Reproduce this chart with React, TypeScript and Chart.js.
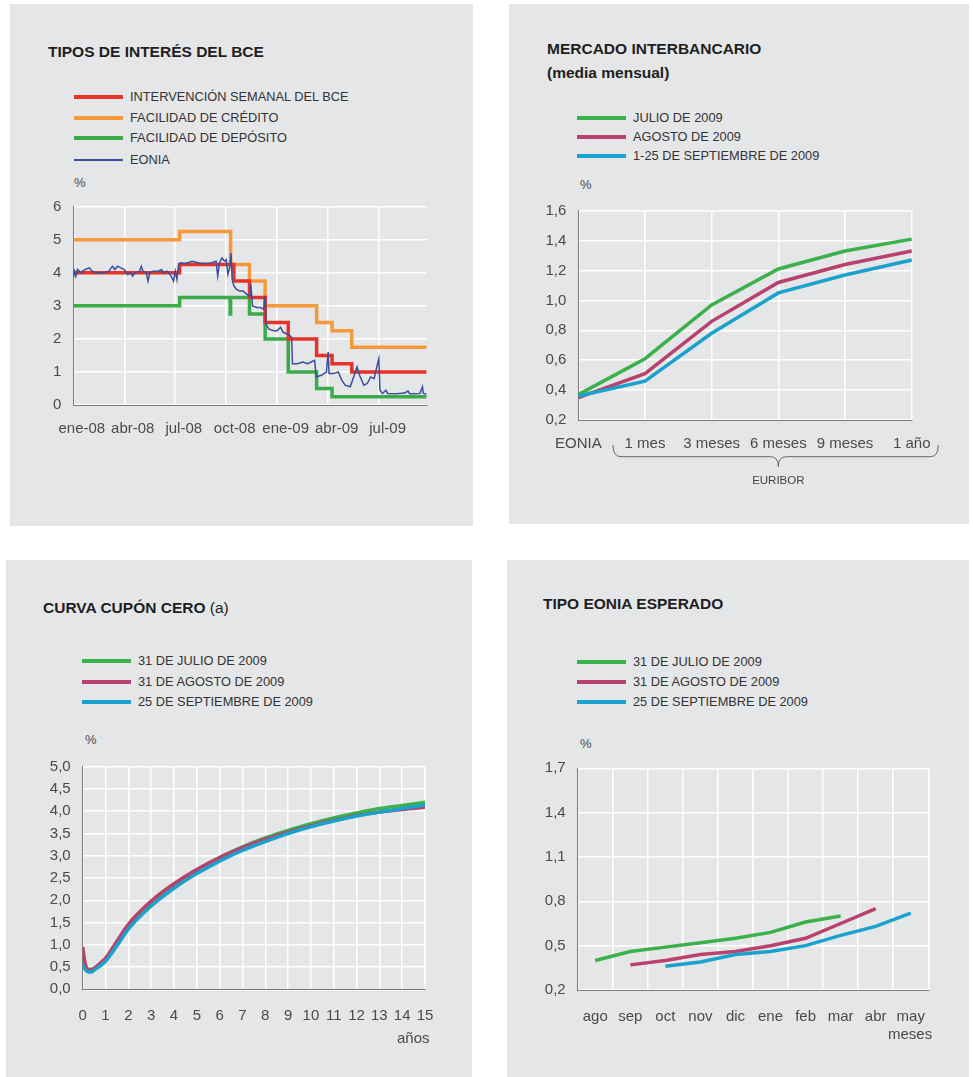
import React, { useEffect, useRef } from 'react';
import { Chart, registerables } from 'chart.js';

Chart.register(...registerables);

// ---------- Panel 1: TIPOS DE INTERÉS DEL BCE (x in months since Jan 2008) ----------
const p1TickMonths = [0, 3, 6, 9, 12, 15, 18];
const p1TickLabels = ['ene-08', 'abr-08', 'jul-08', 'oct-08', 'ene-09', 'abr-09', 'jul-09'];
const p1YTicks = [0, 1, 2, 3, 4, 5, 6];
const p1XMax = 20.8;
const mroMonths = [0, 6.26, 9.45, 10.37, 11.29, 12.65, 14.32, 15.23, 16.39, 20.8];
const mroValues = [4.0, 4.25, 3.75, 3.25, 2.5, 2.0, 1.5, 1.25, 1.0, 1.0];
const lendingMonths = [0, 6.26, 9.26, 10.37, 11.29, 14.32, 15.23, 16.39, 20.8];
const lendingValues = [5.0, 5.25, 4.25, 3.75, 3.0, 2.5, 2.25, 1.75, 1.75];
const depositMonths = [0, 6.26, 9.23, 9.26, 10.37, 11.29, 12.65, 14.32, 15.23, 20.8];
const depositValues = [3.0, 3.25, 2.75, 3.25, 2.75, 2.0, 1.0, 0.5, 0.25, 0.25];
const eoniaMonths = [
  0, 0.08, 0.15, 0.25, 0.35, 0.45, 0.55, 0.7, 0.95, 1.1, 1.4, 1.7, 2.1, 2.3, 2.45, 2.6, 2.8, 3.0,
  3.2, 3.35, 3.5, 3.6, 3.9, 4.0, 4.1, 4.3, 4.4, 4.5, 4.7, 5.0, 5.2, 5.3, 5.5, 5.7, 5.9, 6.0, 6.1,
  6.2, 6.3, 6.6, 7.0, 7.4, 7.8, 8.1, 8.4, 8.5, 8.6, 8.75, 8.9, 9.0, 9.1, 9.2, 9.28, 9.35, 9.45,
  9.6, 9.8, 10.0, 10.2, 10.4, 10.45, 10.55, 10.8, 11.0, 11.2, 11.3, 11.35, 11.5, 11.8, 12.0, 12.2,
  12.35, 12.6, 12.75, 12.85, 12.9, 13.2, 13.5, 13.8, 14.0, 14.2, 14.3, 14.6, 14.9, 15.0, 15.05,
  15.3, 15.6, 15.8, 16.0, 16.3, 16.5, 16.7, 16.85, 17.1, 17.3, 17.5, 17.7, 17.98, 18.05, 18.2,
  18.4, 18.5, 19.0, 19.5, 19.7, 19.8, 20.4, 20.55, 20.6, 20.8,
];
const eoniaValues = [
  3.85, 4.05, 3.9, 4.1, 4.05, 4.0, 4.05, 4.1, 4.15, 4.05, 4.0, 4.0, 4.05, 4.2, 4.1, 4.2, 4.15, 4.1,
  3.95, 4.0, 3.9, 4.0, 4.05, 4.2, 4.05, 4.0, 3.75, 4.0, 4.05, 4.05, 4.1, 4.0, 4.05, 3.95, 3.75, 4.05, 3.8,
  4.25, 4.3, 4.28, 4.35, 4.3, 4.28, 4.3, 4.35, 3.9, 4.3, 4.45, 4.35, 4.4, 3.95, 4.15, 4.6, 3.8, 3.6,
  3.5, 3.45, 3.45, 3.35, 3.3, 3.65, 3.0, 2.95, 2.95, 2.9, 3.3, 2.45, 2.3, 2.25, 2.25, 2.35,
  2.2, 2.15, 2.1, 2.05, 1.25, 1.25, 1.3, 1.25, 1.3, 1.35, 0.85, 0.9, 1.0, 1.6, 0.95,
  0.95, 1.0, 0.75, 0.6, 0.55, 0.85, 1.15, 0.9, 0.6, 0.65, 0.85, 0.8, 1.4, 0.45, 0.35,
  0.45, 0.35, 0.34, 0.36, 0.42, 0.34, 0.35, 0.55, 0.35, 0.33,
];

// ---------- Panel 2: MERCADO INTERBANCARIO ----------
const p2Labels = ['EONIA', '1 mes', '3 meses', '6 meses', '9 meses', '1 año'];
const p2YTicks = [0.2, 0.4, 0.6, 0.8, 1.0, 1.2, 1.4, 1.6];
const p2Jul = [0.37, 0.61, 0.97, 1.21, 1.33, 1.41];
const p2Aug = [0.35, 0.51, 0.86, 1.12, 1.24, 1.33];
const p2Sep = [0.36, 0.46, 0.78, 1.05, 1.17, 1.27];

// ---------- Panel 3: CURVA CUPÓN CERO (x in years) ----------
const p3Years = [0, 0.1, 0.25, 0.4, 0.5, 0.75, 1, 1.5, 2, 3, 4, 5, 6, 7, 8, 9, 10, 11, 12, 13, 14, 15];
const p3XTicks = [0, 1, 2, 3, 4, 5, 6, 7, 8, 9, 10, 11, 12, 13, 14, 15];
const p3YTicks = [0, 0.5, 1, 1.5, 2, 2.5, 3, 3.5, 4, 4.5, 5];
const p3Jul = [0.6, 0.5, 0.45, 0.45, 0.47, 0.55, 0.68, 1.05, 1.43, 1.95, 2.35, 2.68, 2.96, 3.2, 3.4, 3.57, 3.72, 3.85, 3.96, 4.06, 4.13, 4.2];
const p3Aug = [0.95, 0.6, 0.43, 0.43, 0.47, 0.58, 0.7, 1.08, 1.46, 1.98, 2.37, 2.69, 2.96, 3.18, 3.37, 3.53, 3.67, 3.79, 3.9, 3.98, 4.04, 4.09];
const p3Sep = [0.55, 0.45, 0.39, 0.39, 0.43, 0.52, 0.63, 0.98, 1.35, 1.87, 2.27, 2.6, 2.88, 3.12, 3.32, 3.5, 3.65, 3.78, 3.89, 3.98, 4.06, 4.14];

// ---------- Panel 4: TIPO EONIA ESPERADO ----------
const p4Labels = ['ago', 'sep', 'oct', 'nov', 'dic', 'ene', 'feb', 'mar', 'abr', 'may'];
const p4YTicks = [0.2, 0.5, 0.8, 1.1, 1.4, 1.7];
const p4Jul = [0.4, 0.46, 0.49, 0.52, 0.55, 0.59, 0.66, 0.7, null, null];
const p4Aug = [null, 0.37, 0.4, 0.44, 0.46, 0.5, 0.55, 0.65, 0.75, null];
const p4Sep = [null, null, 0.36, 0.39, 0.44, 0.46, 0.5, 0.57, 0.63, 0.72];

// ---------- styles ----------
const FONT = "'Liberation Sans', Arial, Helvetica, sans-serif";
const PANEL_BG = '#e5e6e8';
const TICK_COLOR = '#4a4a4a';
const AXIS_COLOR = '#7a7a7a';
const RED = '#e5332a';
const ORANGE = '#f7993b';
const GREEN1 = '#3aab48';
const BLUE = '#3b4f9c';
const GREEN = '#3cb04b';
const MAGENTA = '#b8426d';
const CYAN = '#1aa2cd';

const comma1 = (v: number) => v.toFixed(1).replace('.', ',');
const pts = (xs: number[], ys: number[]) => xs.map((x, i) => ({ x, y: ys[i] }));

function yAxis(ticks: number[], width: number, fmt: (v: number) => string) {
  return {
    min: ticks[0],
    max: ticks[ticks.length - 1],
    afterBuildTicks: (s: any) => {
      s.ticks = ticks.map((v) => ({ value: v }));
    },
    afterFit: (s: any) => {
      s.width = width;
    },
    grid: { color: '#ffffff', lineWidth: 1.5, drawTicks: false },
    border: { color: AXIS_COLOR, width: 1 },
    ticks: {
      padding: 12,
      color: TICK_COLOR,
      font: { family: FONT, size: 15 },
      callback: (v: any) => fmt(Number(v)),
    },
  };
}

const basePlugins = { legend: { display: false }, tooltip: { enabled: false } };

function ChartBox({ left, top, width, height, make }: any) {
  const ref = useRef<HTMLCanvasElement>(null);
  useEffect(() => {
    const chart = new Chart(ref.current as HTMLCanvasElement, make());
    return () => chart.destroy();
  }, []);
  return (
    <canvas
      ref={ref}
      width={width}
      height={height}
      style={{ position: 'absolute', left, top, width, height }}
    />
  );
}

const makeP1 = (): any => ({
  type: 'line',
  data: {
    datasets: [
      { label: 'EONIA', data: pts(eoniaMonths, eoniaValues), borderColor: BLUE, borderWidth: 1.5, pointRadius: 0, order: 0 },
      { label: 'INTERVENCIÓN SEMANAL DEL BCE', data: pts(mroMonths, mroValues), stepped: true, borderColor: RED, borderWidth: 3.5, pointRadius: 0, order: 1 },
      { label: 'FACILIDAD DE DEPÓSITO', data: pts(depositMonths, depositValues), stepped: true, borderColor: GREEN1, borderWidth: 3.5, pointRadius: 0, order: 2 },
      { label: 'FACILIDAD DE CRÉDITO', data: pts(lendingMonths, lendingValues), stepped: true, borderColor: ORANGE, borderWidth: 3.5, pointRadius: 0, order: 3 },
    ],
  },
  options: {
    animation: false,
    responsive: false,
    devicePixelRatio: 1,
    layout: { padding: { left: 0, top: 202.7, right: 46.3, bottom: 81 } },
    plugins: basePlugins,
    scales: {
      x: {
        type: 'linear',
        min: 0,
        max: p1XMax,
        afterBuildTicks: (s: any) => {
          s.ticks = p1TickMonths.map((v) => ({ value: v }));
        },
        afterFit: (s: any) => {
          s.height = 40;
        },
        grid: { color: '#ffffff', lineWidth: 1.5, drawTicks: false },
        border: { color: AXIS_COLOR, width: 1 },
        ticks: {
          padding: 15,
          labelOffset: 8.5,
          autoSkip: false,
          maxRotation: 0,
          color: TICK_COLOR,
          font: { family: FONT, size: 15 },
          callback: (_v: any, i: number) => p1TickLabels[i],
        },
      },
      y: yAxis(p1YTicks, 63.3, (v) => String(v)),
    },
  },
});

const bracePlugin = {
  id: 'euriborBrace',
  afterDraw(chart: any) {
    const { ctx, chartArea } = chart;
    const xs = chart.scales.x;
    const x1 = xs.getPixelForValue(1);
    const x5 = xs.getPixelForValue(5);
    const L = x1 - 32;
    const R = x5 + 26.6;
    const C = (x1 + x5) / 2;
    const top = chartArea.bottom + 25;
    const mid = chartArea.bottom + 36.7;
    const tip = chartArea.bottom + 46.7;
    const r = 8;
    ctx.save();
    ctx.strokeStyle = '#666';
    ctx.lineWidth = 1;
    ctx.beginPath();
    ctx.moveTo(L, top);
    ctx.quadraticCurveTo(L, mid, L + r, mid);
    ctx.lineTo(C - r, mid);
    ctx.quadraticCurveTo(C, mid, C, tip);
    ctx.quadraticCurveTo(C, mid, C + r, mid);
    ctx.lineTo(R - r, mid);
    ctx.quadraticCurveTo(R, mid, R, top);
    ctx.stroke();
    ctx.fillStyle = '#444';
    ctx.font = `11.5px ${FONT}`;
    ctx.textAlign = 'center';
    ctx.textBaseline = 'middle';
    ctx.fillText('EURIBOR', C, chartArea.bottom + 60.7);
    ctx.restore();
  },
};

const catX = (height: number, padding: number, offset: boolean) => ({
  type: 'category',
  offset,
  afterFit: (s: any) => {
    s.height = height;
  },
  grid: { color: '#ffffff', lineWidth: 1.5, drawTicks: false, offset },
  border: { color: AXIS_COLOR, width: 1 },
  ticks: {
    padding,
    autoSkip: false,
    maxRotation: 0,
    color: TICK_COLOR,
    font: { family: FONT, size: 15 },
  },
});

const lineDs = (label: string, data: any[], color: string, order: number) => ({
  label,
  data,
  borderColor: color,
  borderWidth: 3.5,
  pointRadius: 0,
  order,
});

const makeP2 = (): any => ({
  type: 'line',
  data: {
    labels: p2Labels,
    datasets: [
      lineDs('JULIO DE 2009', p2Jul, GREEN, 2),
      lineDs('AGOSTO DE 2009', p2Aug, MAGENTA, 1),
      lineDs('1-25 DE SEPTIEMBRE DE 2009', p2Sep, CYAN, 0),
    ],
  },
  options: {
    animation: false,
    responsive: false,
    devicePixelRatio: 1,
    layout: { padding: { left: 0, top: 206.7, right: 57.3, bottom: 64 } },
    plugins: basePlugins,
    scales: {
      x: catX(40, 15, false),
      y: yAxis(p2YTicks, 69.3, comma1),
    },
  },
  plugins: [bracePlugin],
});

const makeP3 = (): any => ({
  type: 'line',
  data: {
    datasets: [
      { ...lineDs('31 DE JULIO DE 2009', pts(p3Years, p3Jul), GREEN, 2), cubicInterpolationMode: 'monotone' },
      { ...lineDs('31 DE AGOSTO DE 2009', pts(p3Years, p3Aug), MAGENTA, 1), cubicInterpolationMode: 'monotone' },
      { ...lineDs('25 DE SEPTIEMBRE DE 2009', pts(p3Years, p3Sep), CYAN, 0), cubicInterpolationMode: 'monotone' },
    ],
  },
  options: {
    animation: false,
    responsive: false,
    devicePixelRatio: 1,
    layout: { padding: { left: 0, top: 206.7, right: 47, bottom: 47.7 } },
    plugins: basePlugins,
    scales: {
      x: {
        type: 'linear',
        min: 0,
        max: 15,
        afterBuildTicks: (s: any) => {
          s.ticks = p3XTicks.map((v) => ({ value: v }));
        },
        afterFit: (s: any) => {
          s.height = 40;
        },
        grid: { color: '#ffffff', lineWidth: 1.5, drawTicks: false },
        border: { color: AXIS_COLOR, width: 1 },
        ticks: {
          padding: 18,
          autoSkip: false,
          maxRotation: 0,
          color: TICK_COLOR,
          font: { family: FONT, size: 15 },
          callback: (v: any) => String(v),
        },
      },
      y: yAxis(p3YTicks, 76.7, comma1),
    },
  },
});

const makeP4 = (): any => ({
  type: 'line',
  data: {
    labels: p4Labels,
    datasets: [
      lineDs('31 DE JULIO DE 2009', p4Jul, GREEN, 2),
      lineDs('31 DE AGOSTO DE 2009', p4Aug, MAGENTA, 1),
      lineDs('25 DE SEPTIEMBRE DE 2009', p4Sep, CYAN, 0),
    ],
  },
  options: {
    animation: false,
    responsive: false,
    devicePixelRatio: 1,
    layout: { padding: { left: 0, top: 208.3, right: 40.7, bottom: 47 } },
    plugins: basePlugins,
    scales: {
      x: catX(40, 17.5, true),
      y: yAxis(p4YTicks, 70.7, comma1),
    },
  },
});

// ---------- HTML helpers ----------
const Txt = ({ x, yc, children, style }: any) => (
  <div
    style={{
      position: 'absolute',
      left: x,
      top: yc,
      transform: 'translateY(-50%)',
      whiteSpace: 'nowrap',
      lineHeight: 1,
      fontFamily: FONT,
      ...style,
    }}
  >
    {children}
  </div>
);

const Title = ({ x, yc, children }: any) => (
  <Txt x={x} yc={yc} style={{ fontSize: 15.5, fontWeight: 'bold', color: '#1e1e1e' }}>
    {children}
  </Txt>
);

const LegendRow = ({ x, yc, color, label, thick = 4 }: any) => (
  <>
    <div
      style={{
        position: 'absolute',
        left: x,
        top: yc - thick / 2,
        width: 49,
        height: thick,
        background: color,
      }}
    />
    <Txt x={x + 56} yc={yc} style={{ fontSize: 12.8, color: '#333' }}>
      {label}
    </Txt>
  </>
);

const Small = ({ x, yc, children, style }: any) => (
  <Txt x={x} yc={yc} style={{ fontSize: 13, color: '#4a4a4a', ...style }}>
    {children}
  </Txt>
);

const Panel = ({ left, top, width, height }: any) => (
  <div style={{ position: 'absolute', left, top, width, height, background: PANEL_BG }} />
);

export default function App() {
  return (
    <div
      style={{
        position: 'absolute',
        left: 0,
        top: 0,
        width: 973,
        height: 1077,
        background: '#ffffff',
        overflow: 'hidden',
      }}
    >
      <Panel left={10} top={4} width={463} height={522} />
      <Panel left={509} top={4} width={460} height={520} />
      <Panel left={6} top={560} width={466} height={517} />
      <Panel left={507} top={560} width={462} height={517} />

      {/* Panel 1 */}
      <Title x={48} yc={52}>TIPOS DE INTERÉS DEL BCE</Title>
      <LegendRow x={74} yc={97} color={RED} label="INTERVENCIÓN SEMANAL DEL BCE" />
      <LegendRow x={74} yc={117.5} color={ORANGE} label="FACILIDAD DE CRÉDITO" />
      <LegendRow x={74} yc={138} color={GREEN1} label="FACILIDAD DE DEPÓSITO" />
      <LegendRow x={74} yc={159.5} color={BLUE} label="EONIA" thick={2} />
      <Small x={74} yc={182}>%</Small>
      <ChartBox left={10} top={4} width={463} height={522} make={makeP1} />

      {/* Panel 2 */}
      <Title x={547} yc={49}>MERCADO INTERBANCARIO</Title>
      <Title x={547} yc={73}>(media mensual)</Title>
      <LegendRow x={577} yc={118.3} color={GREEN} label="JULIO DE 2009" />
      <LegendRow x={577} yc={137} color={MAGENTA} label="AGOSTO DE 2009" />
      <LegendRow x={577} yc={156} color={CYAN} label="1-25 DE SEPTIEMBRE DE 2009" />
      <Small x={580} yc={184}>%</Small>
      <ChartBox left={509} top={4} width={460} height={520} make={makeP2} />

      {/* Panel 3 */}
      <Title x={43} yc={608}>
        CURVA CUPÓN CERO <span style={{ fontWeight: 'normal' }}>(a)</span>
      </Title>
      <LegendRow x={82} yc={661} color={GREEN} label="31 DE JULIO DE 2009" />
      <LegendRow x={82} yc={681.5} color={MAGENTA} label="31 DE AGOSTO DE 2009" />
      <LegendRow x={82} yc={702} color={CYAN} label="25 DE SEPTIEMBRE DE 2009" />
      <Small x={85} yc={739}>%</Small>
      <ChartBox left={6} top={560} width={466} height={517} make={makeP3} />
      <Txt x={397} yc={1037} style={{ fontSize: 15, color: TICK_COLOR }}>años</Txt>

      {/* Panel 4 */}
      <Title x={543} yc={604}>TIPO EONIA ESPERADO</Title>
      <LegendRow x={577} yc={662} color={GREEN} label="31 DE JULIO DE 2009" />
      <LegendRow x={577} yc={682} color={MAGENTA} label="31 DE AGOSTO DE 2009" />
      <LegendRow x={577} yc={702} color={CYAN} label="25 DE SEPTIEMBRE DE 2009" />
      <Small x={580} yc={743}>%</Small>
      <ChartBox left={507} top={560} width={462} height={517} make={makeP4} />
      <Txt x={888} yc={1033} style={{ fontSize: 15, color: TICK_COLOR }}>meses</Txt>
    </div>
  );
}
